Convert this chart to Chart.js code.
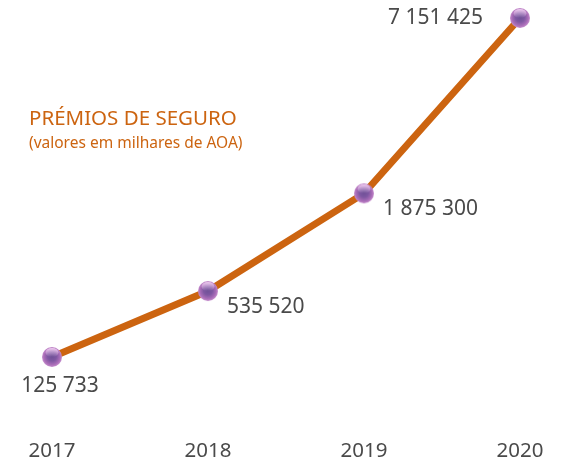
<!DOCTYPE html>
<html lang="pt">
<head>
    <meta charset="UTF-8" />
    <title>Prémios de Seguro</title>
    <script src="https://cdn.jsdelivr.net/npm/chart.js"></script>
    <style>
        html, body { margin: 0; padding: 0; background: #fff; }
        #wrap { position: relative; width: 566px; height: 466px; }
    </style>
</head>
<body>
    <div id="wrap">
        <canvas id="premiosChart" width="566" height="466"></canvas>
    </div>
    <script>
        // data
        const years = ['2017', '2018', '2019', '2020'];
        const premios = [125733, 535520, 1875300, 7151425];
        const valueLabels = ['125 733', '535 520', '1 875 300', '7 151 425'];
        const chartTitle = 'PRÉMIOS DE SEGURO';
        const chartSubtitle = '(valores em milhares de AOA)';

        // where each value label sits relative to its point
        const labelPlacement = ['below', 'right', 'right', 'left'];

        const FONT = '"Noto Sans", "Open Sans", sans-serif';
        const ORANGE = '#cc6410';
        const GREY = '#4a4a4a';

        // power scale - the original drawing compresses the big values
        class PowerScale extends Chart.LinearScale {
            _pw(v) { return Math.pow(v, this.options.exponent || 0.4); }
            getPixelForValue(value) {
                const a = this._pw(this.min), b = this._pw(this.max);
                return this.getPixelForDecimal((this._pw(value) - a) / (b - a));
            }
            getValueForPixel(pixel) {
                const a = this._pw(this.min), b = this._pw(this.max);
                const d = this.getDecimalForPixel(pixel);
                return Math.pow(a + d * (b - a), 1 / (this.options.exponent || 0.4));
            }
        }
        PowerScale.id = 'power';
        PowerScale.defaults = Chart.LinearScale.defaults;
        Chart.register(PowerScale);

        // glossy purple ball used as the point marker
        function makeBall(r) {
            const c = document.createElement('canvas');
            c.width = c.height = r * 2 + 2;
            const g = c.getContext('2d');
            const cx = r + 1, cy = r + 1;
            const grad = g.createRadialGradient(cx, cy - r * 0.1, 0, cx, cy, r);
            grad.addColorStop(0, '#6e4f96');
            grad.addColorStop(0.45, '#7f58a2');
            grad.addColorStop(0.8, '#aa6db8');
            grad.addColorStop(1, '#c68ecd');
            g.fillStyle = grad;
            g.beginPath();
            g.arc(cx, cy, r, 0, Math.PI * 2);
            g.fill();
            // top highlight
            const hl = g.createLinearGradient(0, cy - r, 0, cy);
            hl.addColorStop(0, 'rgba(255,230,255,0.85)');
            hl.addColorStop(1, 'rgba(255,230,255,0)');
            g.fillStyle = hl;
            g.beginPath();
            g.ellipse(cx, cy - r * 0.45, r * 0.65, r * 0.45, 0, 0, Math.PI * 2);
            g.fill();
            return c;
        }
        const ball = makeBall(10);

        const textPlugin = {
            id: 'textPlugin',
            afterDatasetsDraw(chart) {
                const ctx = chart.ctx;
                const meta = chart.getDatasetMeta(0);
                ctx.save();
                ctx.fillStyle = GREY;
                ctx.font = '21px ' + FONT;
                ctx.textBaseline = 'middle';
                meta.data.forEach((pt, i) => {
                    const place = labelPlacement[i];
                    if (place === 'below') {
                        ctx.textAlign = 'center';
                        ctx.fillText(valueLabels[i], pt.x + 8, pt.y + 29);
                    } else if (place === 'right') {
                        ctx.textAlign = 'left';
                        ctx.fillText(valueLabels[i], pt.x + 19, pt.y + 16);
                    } else {
                        ctx.textAlign = 'right';
                        ctx.fillText(valueLabels[i], pt.x - 37, pt.y);
                    }
                });
                // title block
                ctx.textAlign = 'left';
                ctx.textBaseline = 'alphabetic';
                ctx.fillStyle = ORANGE;
                ctx.font = '20.5px ' + FONT;
                ctx.fillText(chartTitle, 29, 125);
                ctx.font = '15.5px ' + FONT;
                ctx.fillText(chartSubtitle, 29, 148);
                ctx.restore();
            }
        };

        new Chart(document.getElementById('premiosChart').getContext('2d'), {
            type: 'line',
            data: {
                labels: years,
                datasets: [{
                    data: premios,
                    borderColor: ORANGE,
                    borderWidth: 7,
                    tension: 0,
                    pointStyle: ball,
                    pointRadius: 10,
                    clip: false,
                    fill: false
                }]
            },
            options: {
                responsive: false,
                animation: false,
                layout: { padding: { left: 52, right: 46, top: 18, bottom: 0 } },
                plugins: {
                    legend: { display: false },
                    tooltip: { enabled: false }
                },
                scales: {
                    x: {
                        offset: false,
                        grid: { display: false },
                        border: { display: false },
                        ticks: {
                            color: GREY,
                            font: { family: FONT, size: 20.5 },
                            padding: 74,
                            maxRotation: 0
                        },
                        afterFit(scale) {
                            scale.height = 109;
                            scale.paddingLeft = 0;
                            scale.paddingRight = 0;
                        }
                    },
                    y: {
                        type: 'power',
                        exponent: 0.4,
                        display: false,
                        min: Math.min(...premios),
                        max: Math.max(...premios)
                    }
                }
            },
            plugins: [textPlugin]
        });
    </script>
</body>
</html>
